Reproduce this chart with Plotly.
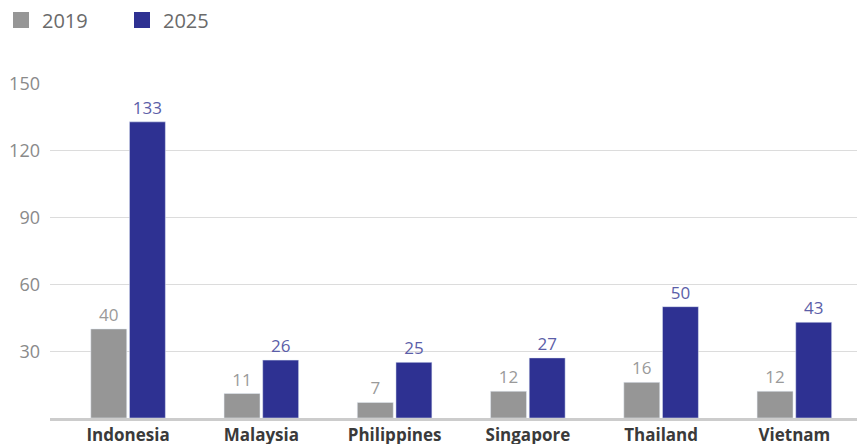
import plotly.graph_objects as go

countries = ["Indonesia", "Malaysia", "Philippines", "Singapore", "Thailand", "Vietnam"]
values_2019 = [40, 11, 7, 12, 16, 12]
values_2025 = [133, 26, 25, 27, 50, 43]
series_names = ["2019", "2025"]
y_ticks = [30, 60, 90, 120, 150]

gray = "#969696"
blue = "#2E3192"

fig = go.Figure()
fig.add_trace(go.Bar(
    x=countries, y=values_2019, name=series_names[0], marker_color=gray,
    text=[str(v) for v in values_2019], textposition="outside",
    outsidetextfont=dict(color="#9a9a9a", size=17, family="Open Sans"),
    cliponaxis=False, showlegend=False,
))
fig.add_trace(go.Bar(
    x=countries, y=values_2025, name=series_names[1], marker_color=blue,
    text=[str(v) for v in values_2025], textposition="outside",
    outsidetextfont=dict(color="#5B5EA8", size=17, family="Open Sans"),
    cliponaxis=False, showlegend=False,
))
# legend entries with larger square symbols
for nm, col in zip(series_names, [gray, blue]):
    fig.add_trace(go.Scatter(
        x=[None], y=[None], mode="markers", name=nm,
        marker=dict(symbol="square", size=19, color=col),
    ))

fig.update_layout(
    width=857, height=444,
    margin=dict(l=50, r=0, t=84, b=26, autoexpand=False),
    paper_bgcolor="white", plot_bgcolor="white",
    barmode="group", bargap=0.42, bargroupgap=0.07,
    font=dict(family="Open Sans", color="#777777"),
    legend=dict(
        orientation="h", xref="container", x=0.0, xanchor="left",
        yref="container", y=0.955, yanchor="middle",
        font=dict(size=20, color="#6a6a6a"), itemwidth=32,
        entrywidth=74, entrywidthmode="pixels",
        traceorder="normal",
    ),
    xaxis=dict(
        range=[-0.586, 5.47], showgrid=False, showline=True,
        linecolor="#cccccc", linewidth=3,
        tickfont=dict(size=17, color="#3a3a3a", family="Open Sans"),
        ticks="",
    ),
    yaxis=dict(
        range=[0, 150], tickvals=y_ticks, showgrid=True, gridcolor="#dcdcdc",
        gridwidth=1, zeroline=False, showline=False,
        tickfont=dict(size=18, color="#8a8a8a", family="Open Sans"),
        ticks="", ticklabelstandoff=9,
    ),
)
fig.update_xaxes(tickprefix="<b>", ticksuffix="</b>")
fig.write_html("out.html")
